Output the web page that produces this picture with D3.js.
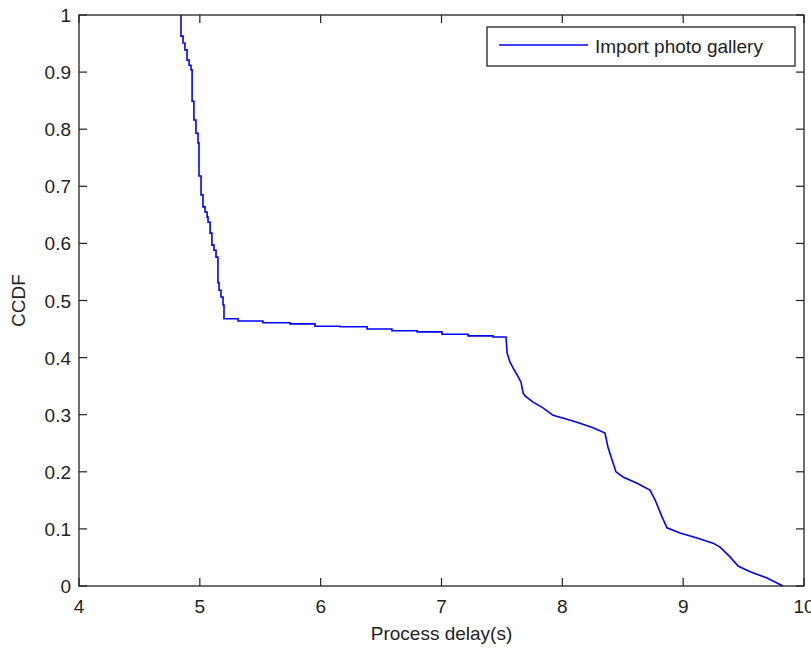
<!DOCTYPE html>
<html>
<head>
<meta charset="utf-8">
<script src="https://cdn.jsdelivr.net/npm/d3@7"></script>
<style>
  body { margin: 0; background: #fff; }
  svg text { font-family: "Liberation Sans", Arial, sans-serif; fill: #222; }
</style>
</head>
<body>
<div id="chart"></div>
<script>
// CCDF of process delay, corners of the plotted curve
var delay = [4.844, 4.844, 4.861, 4.861, 4.877, 4.877, 4.894, 4.894, 4.911, 4.911, 4.927, 4.927,
    4.936, 4.936, 4.951, 4.951, 4.968, 4.968, 4.985, 4.985, 4.993, 4.993, 5.010, 5.010,
    5.026, 5.026, 5.043, 5.043, 5.060, 5.060, 5.068, 5.068, 5.085, 5.085, 5.100, 5.100,
    5.117, 5.117, 5.134, 5.134, 5.150, 5.150, 5.159, 5.159, 5.175, 5.175, 5.192, 5.192,
    5.200, 5.200, 5.316, 5.316, 5.522, 5.522, 5.746, 5.746, 5.953, 5.953, 6.160, 6.160,
    6.384, 6.384, 6.590, 6.590, 6.798, 6.798, 7.004, 7.004, 7.220, 7.220, 7.426, 7.426,
    7.534, 7.543, 7.567, 7.592, 7.625, 7.658, 7.675, 7.691, 7.758, 7.840, 7.923, 8.039,
    8.146, 8.254, 8.353, 8.378, 8.411, 8.444, 8.502, 8.618, 8.725, 8.767, 8.825, 8.866,
    8.974, 9.115, 9.247, 9.305, 9.388, 9.454, 9.554, 9.694, 9.826];
var ccdf = [1.000, 0.963, 0.963, 0.951, 0.951, 0.939, 0.939, 0.921, 0.921, 0.912, 0.912, 0.904,
    0.904, 0.849, 0.849, 0.816, 0.816, 0.793, 0.793, 0.776, 0.776, 0.718, 0.718, 0.685,
    0.685, 0.664, 0.664, 0.655, 0.655, 0.646, 0.646, 0.637, 0.637, 0.618, 0.618, 0.597,
    0.597, 0.588, 0.588, 0.576, 0.576, 0.531, 0.531, 0.518, 0.518, 0.506, 0.506, 0.492,
    0.492, 0.468, 0.468, 0.464, 0.464, 0.461, 0.461, 0.459, 0.459, 0.455, 0.455, 0.454,
    0.454, 0.450, 0.450, 0.447, 0.447, 0.445, 0.445, 0.441, 0.441, 0.438, 0.438, 0.436,
    0.436, 0.408, 0.392, 0.382, 0.370, 0.357, 0.338, 0.333, 0.322, 0.312, 0.299, 0.292,
    0.285, 0.277, 0.268, 0.243, 0.221, 0.200, 0.191, 0.180, 0.168, 0.151, 0.121, 0.102,
    0.093, 0.084, 0.075, 0.068, 0.051, 0.035, 0.025, 0.014, 0.000];

var xTicks = [4, 5, 6, 7, 8, 9, 10];
var yTicks = [0, 0.1, 0.2, 0.3, 0.4, 0.5, 0.6, 0.7, 0.8, 0.9, 1];
var seriesName = "Import photo gallery";
var xLabel = "Process delay(s)";
var yLabel = "CCDF";

var W = 811, H = 652;
var margin = { top: 15, right: 7, bottom: 66, left: 79 };
var width = W - margin.left - margin.right,
    height = H - margin.top - margin.bottom;

var svg = d3.select("#chart").append("svg")
    .attr("width", W)
    .attr("height", H);

var g = svg.append("g")
    .attr("transform", "translate(" + margin.left + "," + margin.top + ")");

var x = d3.scaleLinear().domain([4, 10]).range([0, width]);
var y = d3.scaleLinear().domain([0, 1]).range([height, 0]);

var fs = 19;

// axes (ticks point inward, mirrored on top and right)
var tickLen = 8;
var ax = g.append("g").attr("class", "axes");

ax.selectAll(".xt").data(xTicks).enter().append("line")
    .attr("x1", function (d) { return x(d); })
    .attr("x2", function (d) { return x(d); })
    .attr("y1", height).attr("y2", height - tickLen);
ax.selectAll(".xt2").data(xTicks).enter().append("line")
    .attr("x1", function (d) { return x(d); })
    .attr("x2", function (d) { return x(d); })
    .attr("y1", 0).attr("y2", tickLen);
ax.selectAll(".yt").data(yTicks).enter().append("line")
    .attr("x1", 0).attr("x2", tickLen)
    .attr("y1", function (d) { return y(d); })
    .attr("y2", function (d) { return y(d); });
ax.selectAll(".yt2").data(yTicks).enter().append("line")
    .attr("x1", width).attr("x2", width - tickLen)
    .attr("y1", function (d) { return y(d); })
    .attr("y2", function (d) { return y(d); });
ax.selectAll("line").attr("stroke", "#222").attr("stroke-width", 1.2);

ax.selectAll(".xl").data(xTicks).enter().append("text")
    .attr("x", function (d) { return x(d); })
    .attr("y", height + 27)
    .attr("text-anchor", "middle")
    .style("font-size", fs + "px")
    .text(function (d) { return d; });

ax.selectAll(".yl").data(yTicks).enter().append("text")
    .attr("x", -8)
    .attr("y", function (d) { return y(d) + 7; })
    .attr("text-anchor", "end")
    .style("font-size", fs + "px")
    .text(function (d) { return d; });

// curve
var line = d3.line()
    .x(function (d) { return x(d[0]); })
    .y(function (d) { return y(d[1]); });

g.append("path")
    .datum(d3.zip(delay, ccdf))
    .attr("d", line)
    .attr("fill", "none")
    .attr("stroke", "#0000ff")
    .attr("stroke-width", 1.6);

// plot box
g.append("rect")
    .attr("width", width).attr("height", height)
    .attr("fill", "none")
    .attr("stroke", "#222")
    .attr("stroke-width", 1.3);

// axis labels
svg.append("text")
    .attr("x", margin.left + width / 2)
    .attr("y", 640)
    .attr("text-anchor", "middle")
    .style("font-size", fs + "px")
    .text(xLabel);

svg.append("text")
    .attr("transform", "translate(25," + (margin.top + height / 2) + ") rotate(-90)")
    .attr("text-anchor", "middle")
    .style("font-size", fs + "px")
    .text(yLabel);

// legend
var legend = svg.append("g").attr("transform", "translate(487,27)");
legend.append("rect")
    .attr("width", 308).attr("height", 39)
    .attr("fill", "#fff")
    .attr("stroke", "#222")
    .attr("stroke-width", 1.3);
legend.append("line")
    .attr("x1", 12).attr("x2", 101)
    .attr("y1", 18).attr("y2", 18)
    .attr("stroke", "#0000ff")
    .attr("stroke-width", 1.5);
legend.append("text")
    .attr("x", 108).attr("y", 26)
    .style("font-size", fs + "px")
    .text(seriesName);
</script>
</body>
</html>
